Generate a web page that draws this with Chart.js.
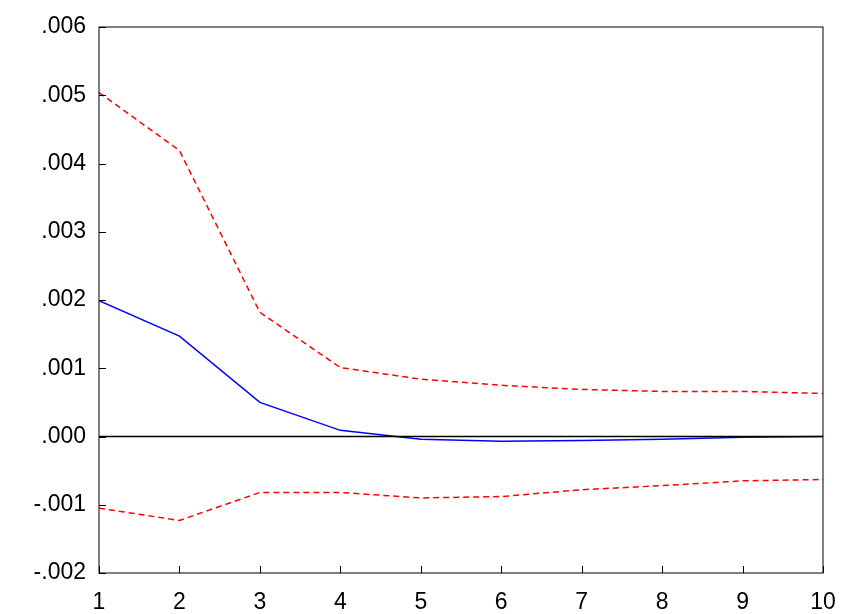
<!DOCTYPE html>
<html><head>
<script src="https://cdn.jsdelivr.net/npm/chart.js@4/dist/chart.umd.min.js"></script>
<style>html,body{margin:0;padding:0;background:#fff}#wrap{width:843px;height:614px}</style>
</head><body>
<div id="wrap"><canvas id="c"></canvas></div>
<script>
const periods = [1,2,3,4,5,6,7,8,9,10];
const response = [0.00199,0.00147,0.00050,0.00009,-0.00004,-0.00007,-0.00006,-0.00004,-0.00001,0.0];
const upperBand = [0.00504,0.00419,0.00182,0.00101,0.00084,0.00075,0.00069,0.00066,0.00066,0.00063];
const lowerBand = [-0.00105,-0.00123,-0.00082,-0.00082,-0.00090,-0.00088,-0.00078,-0.00072,-0.00065,-0.00063];
const zeroLine = periods.map(() => 0);
const yTicks = [-0.002,-0.001,0,0.001,0.002,0.003,0.004,0.005,0.006];

const pts = arr => arr.map((v,i) => ({x: periods[i], y: v}));

// inward tick marks + frame
const innerTicks = {
  id: 'innerTicks',
  afterDraw(chart) {
    const {ctx, chartArea: a, scales: {x, y}} = chart;
    ctx.save();
    ctx.strokeStyle = '#000'; ctx.lineWidth = 1;
    ctx.strokeRect(a.left, a.top, a.right - a.left, a.bottom - a.top);
    ctx.beginPath();
    yTicks.forEach(v => { const py = Math.round(y.getPixelForValue(v)) + 0.5; ctx.moveTo(a.left, py); ctx.lineTo(a.left + 7, py); });
    periods.forEach(v => { const px = Math.round(x.getPixelForValue(v)) + 0.5; ctx.moveTo(px, a.bottom); ctx.lineTo(px, a.bottom - 7); });
    ctx.stroke();
    ctx.restore();
  }
};

new Chart(document.getElementById('c'), {
  type: 'line',
  data: {
    datasets: [
      {data: pts(zeroLine), borderColor: '#000', borderWidth: 1.5},
      {data: pts(upperBand), borderColor: '#ff0000', borderWidth: 1.5, borderDash: [6,4]},
      {data: pts(lowerBand), borderColor: '#ff0000', borderWidth: 1.5, borderDash: [6,4]},
      {data: pts(response), borderColor: '#0000ff', borderWidth: 1.5}
    ]
  },
  options: {
    animation: false, responsive: true, maintainAspectRatio: false,
    elements: {point: {radius: 0}, line: {tension: 0}},
    layout: {padding: {top: 27, right: 0, left: 0, bottom: 0}},
    plugins: {legend: {display: false}, tooltip: {enabled: false}},
    scales: {
      x: {
        type: 'linear', min: 1, max: 10,
        afterBuildTicks: s => { s.ticks = periods.map(v => ({value: v})); },
        afterFit: s => { s.height = 41; s.paddingRight = 20; },
        grid: {display: false, drawTicks: false},
        border: {display: false},
        ticks: {color: '#000', font: {family: 'Liberation Sans', size: 23}, padding: 16, maxRotation: 0, autoSkip: false}
      },
      y: {
        min: -0.002, max: 0.006,
        afterBuildTicks: s => { s.ticks = yTicks.map(v => ({value: v})); },
        afterFit: s => { s.width = 99; },
        grid: {display: false, drawTicks: false},
        border: {display: false},
        ticks: {color: '#000', font: {family: 'Liberation Sans', size: 23}, padding: 13,
          callback: v => { const s = Math.abs(v).toFixed(3).replace(/^0/, ''); return (v < -1e-9 ? '-' : '') + s; }}
      }
    }
  },
  plugins: [innerTicks]
});
</script>
</body></html>
